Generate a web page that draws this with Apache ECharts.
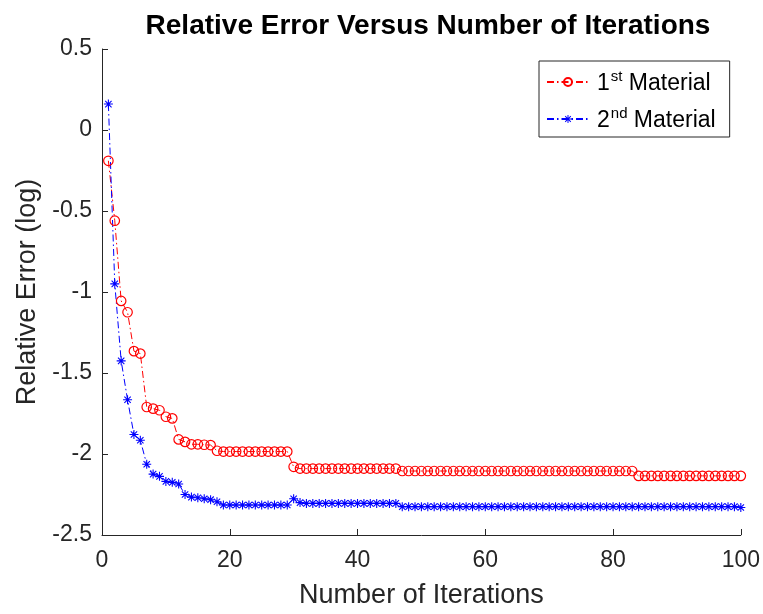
<!DOCTYPE html>
<html>
<head>
<meta charset="utf-8">
<script src="https://cdn.jsdelivr.net/npm/echarts@6/dist/echarts.min.js"></script>
<style>html,body{margin:0;padding:0;background:#fff}#c{width:763px;height:614px}</style>
</head>
<body>
<div id="c"></div>
<script>
var iterations = [1,2,3,4,5,6,7,8,9,10,11,12,13,14,15,16,17,18,19,20,21,22,23,24,25,26,27,28,29,30,31,32,33,34,35,36,37,38,39,40,41,42,43,44,45,46,47,48,49,50,51,52,53,54,55,56,57,58,59,60,61,62,63,64,65,66,67,68,69,70,71,72,73,74,75,76,77,78,79,80,81,82,83,84,85,86,87,88,89,90,91,92,93,94,95,96,97,98,99,100];
var material1 = [-0.19,-0.56,-1.055,-1.125,-1.365,-1.38,-1.71,-1.72,-1.73,-1.77,-1.78,-1.91,-1.925,-1.94,-1.94,-1.943,-1.945,-1.98,
  -1.985,-1.985,-1.985,-1.985,-1.985,-1.985,-1.985,-1.985,-1.985,-1.985,-1.985,
  -2.079,
  -2.09,-2.09,-2.09,-2.09,-2.09,-2.09,-2.09,-2.09,-2.09,-2.09,-2.09,-2.09,-2.09,-2.09,-2.09,-2.09,
  -2.105,-2.105,-2.105,-2.105,-2.105,-2.105,-2.105,-2.105,-2.105,-2.105,-2.105,-2.105,-2.105,-2.105,-2.105,-2.105,-2.105,-2.105,-2.105,-2.105,-2.105,-2.105,-2.105,-2.105,-2.105,-2.105,-2.105,-2.105,-2.105,-2.105,-2.105,-2.105,-2.105,-2.105,-2.105,-2.105,-2.105,
  -2.135,-2.135,-2.135,-2.135,-2.135,-2.135,-2.135,-2.135,-2.135,-2.135,-2.135,-2.135,-2.135,-2.135,-2.135,-2.135,-2.135];
var material2 = [0.16,-0.95,-1.425,-1.665,-1.88,-1.915,-2.063,-2.124,-2.138,-2.169,-2.175,-2.185,-2.25,-2.266,-2.27,-2.276,-2.282,-2.295,
  -2.315,-2.315,-2.315,-2.315,-2.315,-2.315,-2.315,-2.315,-2.315,-2.315,-2.315,
  -2.276,
  -2.30,
  -2.305,-2.305,-2.305,-2.305,-2.305,-2.305,-2.305,-2.305,-2.305,-2.305,-2.305,-2.305,-2.305,-2.305,-2.305,
  -2.325,-2.325,-2.325,-2.325,-2.325,-2.325,-2.325,-2.325,-2.325,-2.325,-2.325,-2.325,-2.325,-2.325,-2.325,-2.325,-2.325,-2.325,
  -2.325,-2.325,-2.325,-2.325,-2.325,-2.325,-2.325,-2.325,-2.325,-2.325,-2.325,-2.325,-2.325,-2.325,-2.325,-2.325,-2.325,-2.325,
  -2.325,-2.325,-2.325,-2.325,-2.325,-2.325,-2.325,-2.325,-2.325,-2.325,-2.325,-2.325,-2.325,-2.325,-2.325,-2.325,-2.325,-2.33];
var seriesNames = ['1st Material', '2nd Material'];
var xTicks = [0, 20, 40, 60, 80, 100];
var yTicks = [-2.5, -2, -1.5, -1, -0.5, 0, 0.5];

var FONT = '"Liberation Sans", Arial, Helvetica, sans-serif';
var AX = '#262626';
var asterisk = 'path://M-1,-0.12L1,-0.12L1,0.12L-1,0.12Z' +
  'M-0.12,-1L0.12,-1L0.12,1L-0.12,1Z' +
  'M-0.622,-0.792L0.792,0.622L0.622,0.792L-0.792,-0.622Z' +
  'M-0.622,0.792L-0.792,0.622L0.622,-0.792L0.792,-0.622Z';

function pairs(xs, ys) { return xs.map(function (x, i) { return [x, ys[i]]; }); }

var chart = echarts.init(document.getElementById('c'), null, {renderer: 'canvas'});
chart.setOption({
  animation: false,
  backgroundColor: '#fff',
  title: {
    text: 'Relative Error Versus Number of Iterations',
    left: 423, top: 7, textAlign: 'center',
    textStyle: {fontFamily: FONT, fontWeight: 'bold', fontSize: 28, color: '#000'}
  },
  grid: {left: 102, right: 21, top: 49, bottom: 73, containLabel: false},
  legend: {
    orient: 'vertical', left: 539, top: 61,
    padding: [8, 14, 5, 7],
    itemGap: 11, itemWidth: 42, itemHeight: 10,
    borderColor: AX, borderWidth: 1, backgroundColor: '#fff',
    data: seriesNames,
    formatter: function (n) {
      var num = n.charAt(0), sup = n.substr(1, n.indexOf(' ') - 1), rest = n.substr(n.indexOf(' '));
      return '{n|' + num + '}{s|' + sup + '}{m|' + rest + '}';
    },
    textStyle: {
      fontFamily: FONT, color: '#000',
      rich: {
        n: {fontFamily: FONT, fontSize: 23, color: '#000', lineHeight: 26, verticalAlign: 'bottom', padding: [0, 0, 0, 3]},
        s: {fontFamily: FONT, fontSize: 15, color: '#000', lineHeight: 26, verticalAlign: 'top', padding: [0, 0, 0, 1]},
        m: {fontFamily: FONT, fontSize: 23, color: '#000', lineHeight: 26, verticalAlign: 'bottom'}
      }
    }
  },
  xAxis: {
    type: 'value', min: 0, max: 100, interval: 20,
    name: 'Number of Iterations', nameLocation: 'middle', nameGap: 47,
    nameTextStyle: {fontFamily: FONT, fontSize: 27, color: AX},
    axisLine: {show: true, onZero: false, lineStyle: {color: AX, width: 1}},
    axisTick: {show: true, inside: true, length: 6, lineStyle: {color: AX}},
    axisLabel: {fontFamily: FONT, fontSize: 23, color: AX, margin: 14,
      formatter: function (v) { return xTicks.indexOf(v) >= 0 ? String(v) : ''; }},
    splitLine: {show: false}
  },
  yAxis: {
    type: 'value', min: -2.5, max: 0.5, interval: 0.5,
    name: 'Relative Error (log)', nameLocation: 'middle', nameGap: 59,
    nameTextStyle: {fontFamily: FONT, fontSize: 27, color: AX},
    axisLine: {show: true, onZero: false, lineStyle: {color: AX, width: 1}},
    axisTick: {show: true, inside: true, length: 6, lineStyle: {color: AX}},
    axisLabel: {fontFamily: FONT, fontSize: 23, color: AX, margin: 10,
      formatter: function (v) { return yTicks.indexOf(v) >= 0 ? String(v) : ''; }},
    splitLine: {show: false}
  },
  series: [
    {
      name: seriesNames[0], type: 'line', data: pairs(iterations, material1),
      symbol: 'circle', symbolSize: 9.5, showAllSymbol: true,
      lineStyle: {color: '#ff0000', width: 1, type: [7, 3, 1.5, 3]},
      itemStyle: {color: 'rgba(255,255,255,0)', borderColor: '#ff0000', borderWidth: 1.2},
      emphasis: {disabled: true}
    },
    {
      name: seriesNames[1], type: 'line', data: pairs(iterations, material2),
      symbol: asterisk, symbolSize: 9, showAllSymbol: true,
      lineStyle: {color: '#0000ff', width: 1, type: [7, 3, 1.5, 3]},
      itemStyle: {color: '#0000ff', borderWidth: 0},
      emphasis: {disabled: true}
    }
  ]
});
</script>
</body>
</html>
